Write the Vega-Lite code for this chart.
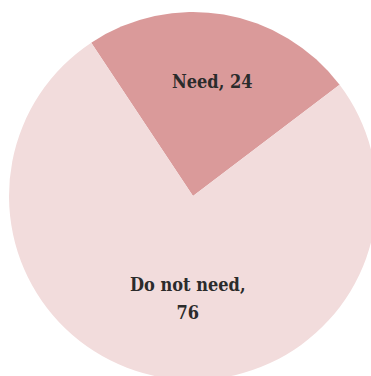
{
  "$schema": "https://vega.github.io/schema/vega-lite/v6.json",
  "width": 386,
  "height": 392,
  "autosize": {"type": "none"},
  "padding": 0,
  "background": "white",
  "view": {"stroke": null},
  "data": {"values": [
    {"cat": "Need", "value": 24, "label": "Need, 24"},
    {"cat": "Do not need", "value": 76, "label": "Do not need,\n76"}
  ]},
  "encoding": {
    "theta": {"field": "value", "type": "quantitative", "stack": true, "scale": {"range": [-0.586, 5.6972]}},
    "order": {"field": "cat", "sort": "descending"}
  },
  "layer": [
    {
      "mark": {"type": "arc", "radius": 184, "stroke": null},
      "encoding": {
        "color": {"field": "cat", "type": "nominal", "legend": null,
          "scale": {"domain": ["Need", "Do not need"], "range": ["#da9a9a", "#f2dcdc"]}}
      }
    },
    {
      "mark": {"type": "text", "radius": 115, "font": "DejaVu Serif Condensed", "fontWeight": "bold", "fontSize": 18, "color": "#2b2b2b", "lineBreak": "\n", "lineHeight": 28},
      "encoding": {
        "text": {"condition": {"test": "datum.cat == 'Need'", "field": "label"}, "value": ""}
      }
    },
    {
      "mark": {"type": "text", "radius": 90, "thetaOffset": -0.11, "font": "DejaVu Serif Condensed", "fontWeight": "bold", "fontSize": 18, "color": "#2b2b2b", "lineBreak": "\n", "lineHeight": 28},
      "encoding": {
        "text": {"condition": {"test": "datum.cat != 'Need'", "field": "label"}, "value": ""}
      }
    }
  ]
}
